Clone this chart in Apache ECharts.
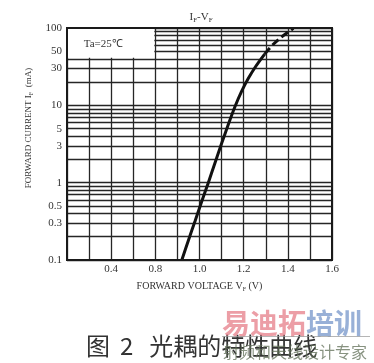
<!DOCTYPE html>
<html><head><meta charset="utf-8">
<script src="https://cdn.jsdelivr.net/npm/echarts@6/dist/echarts.min.js"></script>
<style>html,body{margin:0;padding:0;background:#fff}#c{width:374px;height:363px}</style>
</head><body><div id="c"></div>
<script>
// ---- data ----
const xTickValues = [0.4, 0.8, 1.0, 1.2, 1.4, 1.6];
const xTickLabels = ['0.4', '0.8', '1.0', '1.2', '1.4', '1.6'];
// voltages of the vertical grid lines (axis is 0.2 V/div below 0.8 V, 0.1 V/div above)
const xGridVolts = [0, 0.2, 0.4, 0.6, 0.8, 0.9, 1.0, 1.1, 1.2, 1.3, 1.4, 1.5, 1.6];
const yTickValues = [0.1, 0.3, 0.5, 1, 3, 5, 10, 30, 50, 100];
const yTickLabels = ['0.1', '0.3', '0.5', '1', '3', '5', '10', '30', '50', '100'];
const yGridValues = [0.1, 0.2, 0.3, 0.4, 0.5, 0.6, 0.7, 0.8, 0.9,
                     1, 2, 3, 4, 5, 6, 7, 8, 9,
                     10, 20, 30, 40, 50, 60, 70, 80, 90, 100];
const solidVolts    = [0.92, 0.95, 0.98, 1.01, 1.04, 1.07, 1.10, 1.13, 1.16, 1.19, 1.22, 1.255, 1.295];
const solidCurrents = [0.1,  0.18, 0.32, 0.57, 1.0,  1.8,  3.2,  5.6,  9.5,  15,   22,   32,    46];
const dashVolts     = [1.295, 1.33, 1.365, 1.40, 1.425];
const dashCurrents  = [46,    60,   74,    88,   99];
const boxVolts = [0, 0.8];      // "Ta=25℃" label box extent
const boxCurrents = [40, 100];

// map a voltage onto the (piecewise-linear) grid position
function toPos(v) {
  for (let i = 0; i < xGridVolts.length - 1; i++) {
    const a = xGridVolts[i], b = xGridVolts[i + 1];
    if (v <= b || i === xGridVolts.length - 2) return i + (v - a) / (b - a);
  }
}
function pairs(xs, ys) { return xs.map((v, i) => [toPos(v), ys[i]]); }

const FONT = 'Liberation Serif';
const chart = echarts.init(document.getElementById('c'), null, {renderer: 'canvas'});

chart.setOption({
  animation: false,
  backgroundColor: '#fff',
  title: {
    text: '{n|I}{s|F}{n|-V}{s|F}',
    left: 196, top: 6, textAlign: 'center',
    textStyle: {fontWeight: 'normal', rich: {
      n: {fontFamily: FONT, fontSize: 11, color: '#333', fontWeight: 'normal'},
      s: {fontFamily: FONT, fontSize: 7, color: '#333', fontWeight: 'normal', padding: [6, 0, 0, 0]}
    }}
  },
  grid: {left: 67, right: 42, top: 28, bottom: 103, containLabel: false, outerBoundsMode: 'none'},
  xAxis: {
    type: 'value', min: 0, max: xGridVolts.length - 1, interval: 1,
    axisLine: {show: false}, axisTick: {show: false},
    splitLine: {show: true, lineStyle: {color: '#262626', width: 1.3}},
    axisLabel: {
      customValues: xTickValues.map(toPos),
      fontFamily: FONT, fontSize: 11, color: '#333', margin: 4,
      formatter: function (val) {
        const i = xTickValues.findIndex(t => Math.abs(toPos(t) - val) < 1e-6);
        return i >= 0 ? xTickLabels[i] : '';
      }
    },
    name: '{n|FORWARD VOLTAGE V}{s|F}{n| (V)}',
    nameLocation: 'middle', nameGap: 20,
    nameTextStyle: {rich: {
      n: {fontFamily: FONT, fontSize: 10, color: '#333'},
      s: {fontFamily: FONT, fontSize: 6, color: '#333', padding: [6, 0, 0, 0]}
    }}
  },
  yAxis: {
    type: 'log', logBase: 10, min: 0.1, max: 100,
    axisLine: {show: false},
    axisTick: {show: false, customValues: yGridValues},
    splitLine: {show: true, lineStyle: {color: '#262626', width: 1.3}},
    axisLabel: {
      customValues: yTickValues,
      fontFamily: FONT, fontSize: 11, color: '#333', margin: 5,
      formatter: function (val) {
        const i = yTickValues.findIndex(t => Math.abs(t - val) / t < 1e-6);
        return i >= 0 ? yTickLabels[i] : '';
      }
    },
    name: '{n|FORWARD CURRENT I}{s|F}{n|  (mA)}',
    nameLocation: 'middle', nameGap: 25, nameRotate: 90,
    nameTextStyle: {padding: [0, 0, 0, 32], rich: {
      n: {fontFamily: FONT, fontSize: 9, color: '#333'},
      s: {fontFamily: FONT, fontSize: 6, color: '#333', padding: [5, 0, 0, 0]}
    }}
  },
  series: [
    {type: 'line', z: 3, data: pairs(solidVolts, solidCurrents), smooth: 0.3,
     showSymbol: false, lineStyle: {color: '#111', width: 3}},
    {type: 'line', z: 3, data: pairs(dashVolts, dashCurrents), smooth: 0.3,
     showSymbol: false, lineStyle: {color: '#111', width: 3, type: [8, 4]}}
  ]
});

// decorations positioned through the axes' own scales
const tl = chart.convertToPixel({gridIndex: 0}, [toPos(boxVolts[0]), boxCurrents[1]]);
const br = chart.convertToPixel({gridIndex: 0}, [toPos(boxVolts[1]), boxCurrents[0]]);
const p0 = chart.convertToPixel({gridIndex: 0}, [0, yGridValues[0]]);
const p1 = chart.convertToPixel({gridIndex: 0}, [xGridVolts.length - 1, yGridValues[yGridValues.length - 1]]);

chart.setOption({
  graphic: [
    {type: 'rect', z: 2, silent: true,
     shape: {x: tl[0], y: tl[1], width: br[0] - tl[0] - 1, height: br[1] - tl[1] - 1},
     style: {fill: '#fff'}},
    {type: 'text', z: 4, x: tl[0] + (br[0] - tl[0]) * 0.41, y: (tl[1] + br[1]) / 2 + 1,
     style: {text: 'Ta=25℃', font: '11px "Liberation Serif"', fill: '#333', align: 'center', verticalAlign: 'middle'}},
    {type: 'rect', z: 5, silent: true,
     shape: {x: p0[0], y: p1[1], width: p1[0] - p0[0], height: p0[1] - p1[1]},
     style: {fill: 'none', stroke: '#1a1a1a', lineWidth: 2}},
    {type: 'text', z: 6, x: 86, y: 346,
     style: {rich: {a: {fontFamily: 'Noto Sans CJK SC', fontSize: 24, fill: '#333'},
                    b: {fontFamily: 'Noto Sans CJK SC', fontSize: 24, fill: '#333', padding: [0, 16, 0, 10]}},
             text: '{a|图}{b|2}{a|光耦的特性曲线}', verticalAlign: 'middle'}},
    {type: 'text', z: 7, x: 222, y: 323,
     style: {rich: {a: {fontFamily: 'Noto Sans CJK SC', fontWeight: 'bold', fontSize: 28, fill: 'rgba(228,120,132,0.72)'},
                    b: {fontFamily: 'Noto Sans CJK SC', fontWeight: 'bold', fontSize: 28, fill: 'rgba(112,145,200,0.72)'}},
             text: '{a|易迪拓}{b|培训}', verticalAlign: 'middle'}},
    {type: 'line', z: 7, shape: {x1: 222, y1: 336.5, x2: 370, y2: 336.5},
     style: {stroke: 'rgba(150,150,150,0.7)', lineWidth: 1}},
    {type: 'text', z: 7, x: 223, y: 352,
     style: {text: '射频和天线设计专家', font: '16px "Noto Sans CJK SC"', fill: 'rgba(95,110,85,0.75)', verticalAlign: 'middle'}}
  ]
});
</script>
</body></html>
